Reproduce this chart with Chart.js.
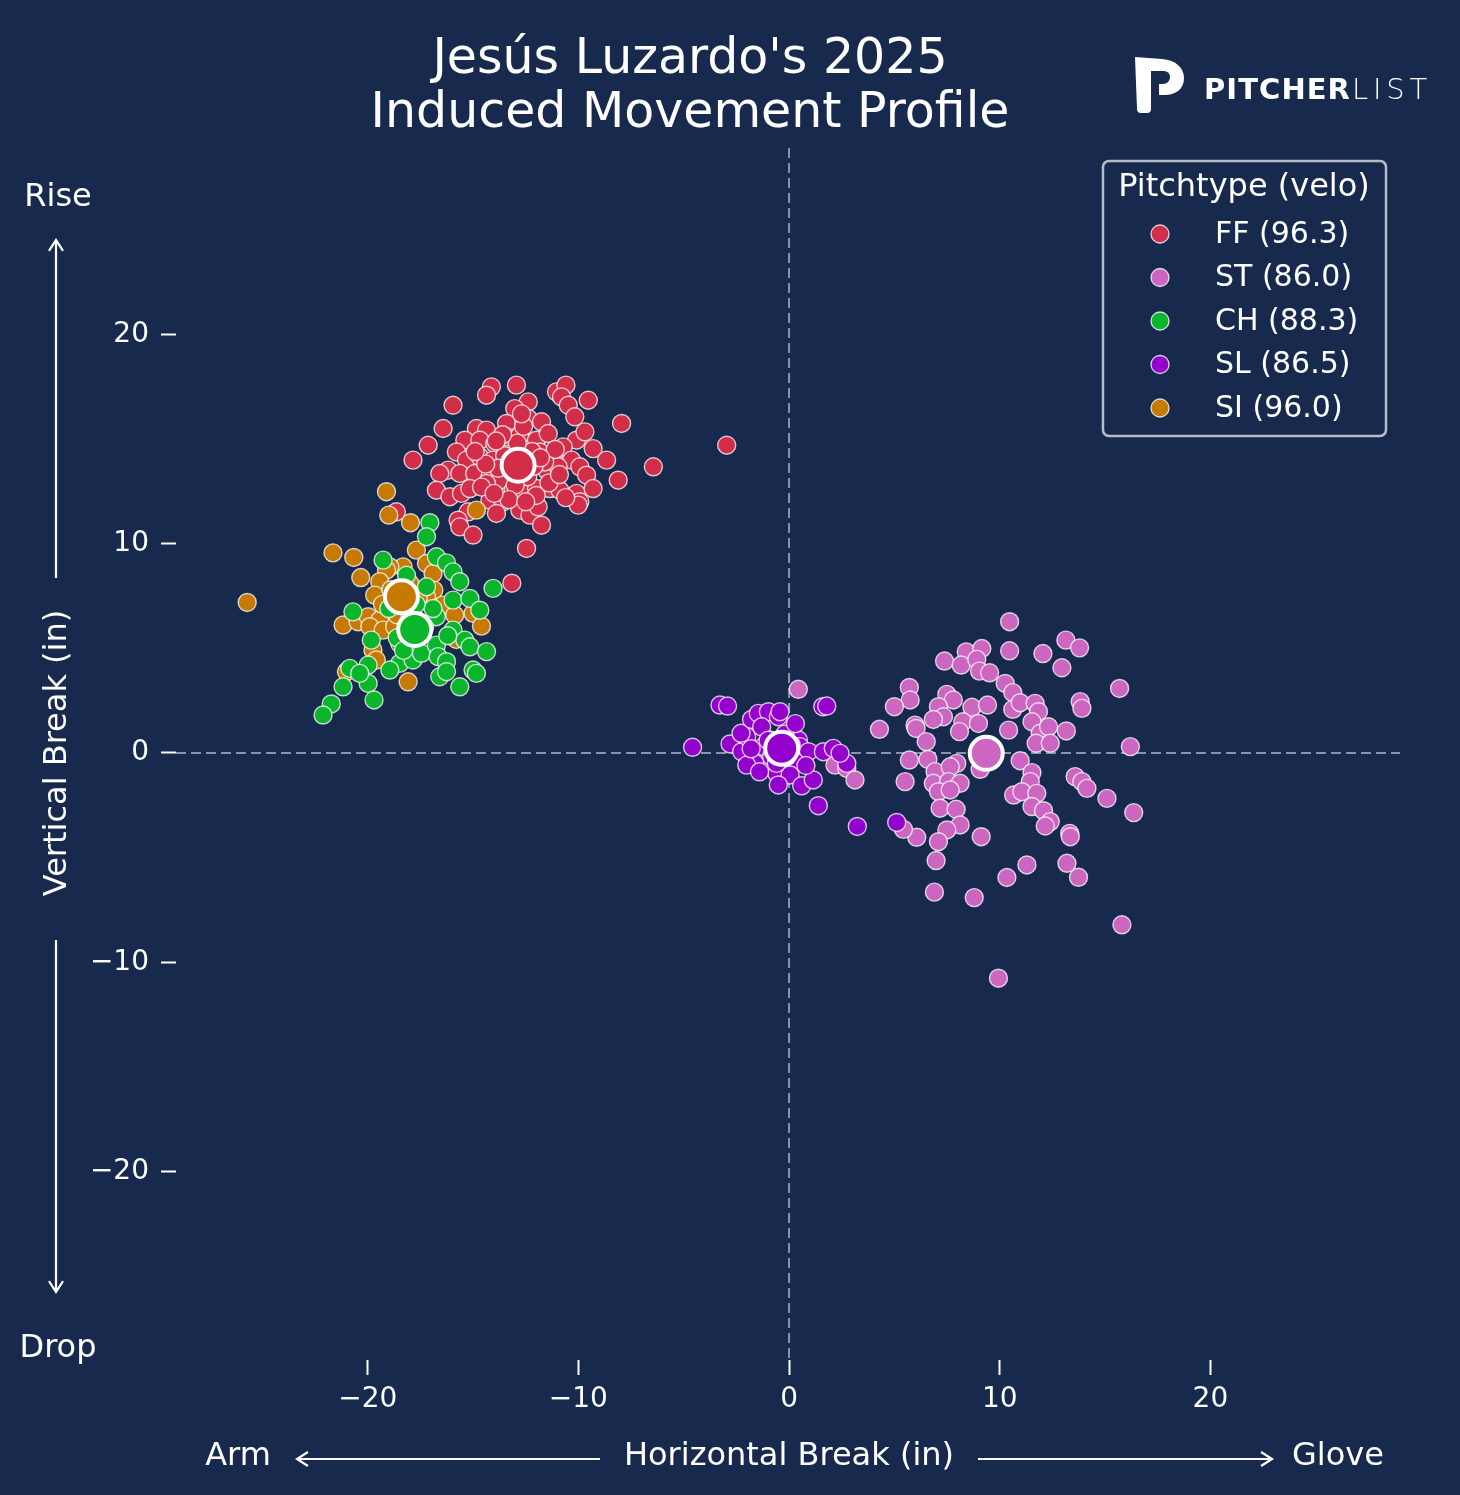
<!DOCTYPE html>
<html>
<head>
<meta charset="utf-8">
<script src="https://cdn.jsdelivr.net/npm/chart.js@4.4.1/dist/chart.umd.min.js"></script>
<style>
  html, body { margin: 0; padding: 0; background: #172a4e; }
  canvas { display: block; }
</style>
</head>
<body>
<canvas id="chart" width="1460" height="1495"></canvas>
<script>
// pitch types, legend order
const pitchNames = ["FF", "ST", "CH", "SL", "SI"];
const pitchVelo = [96.3, 86.0, 88.3, 86.5, 96.0];
const pitchColors = ["#d22d49", "#cc66c0", "#0bb52c", "#9400cc", "#c67a02"];

const xTickVals = [-20, -10, 0, 10, 20];
const yTickVals = [-20, -10, 0, 10, 20];

// horizontal (H) / vertical (V) break per pitch, inches
const ffH = [-14.13,-14.36,-12.94,-11.04,-10.59,-10.80,-12.38,-10.48,-9.53,-13.02,-15.95,-12.38,-11.75,-13.41,-10.17,-16.42,-14.84,-14.36,-15.39,-14.68,-13.97,-13.41,-12.78,-11.99,-11.43,-10.09,-9.69,-9.30,-10.72,-17.13,-15.79,-15.31,-14.68,-14.05,-11.83,-11.20,-10.32,-9.93,-8.66,-17.85,-16.18,-16.58,-15.63,-14.92,-14.20,-13.73,-11.51,-10.96,-9.61,-8.11,-16.74,-16.10,-15.55,-15.15,-14.36,-13.10,-12.62,-11.99,-11.35,-10.88,-10.09,-9.30,-9.93,-10.01,-14.20,-13.57,-12.78,-12.30,-11.91,-13.89,-15.23,-15.71,-15.63,-15.00,-11.75,-12.46,-18.64,-6.44,-7.95,-2.96,-13.16,-13.5,-12.4,-13.0,-12.2,-13.8,-11.6,-12.9,-14.4,-12.0,-13.3,-11.4,-14.6,-12.6,-13.6,-11.1,-10.6,-14.9,-13.1,-12.1,-10.9,-14.0,-12.5,-11.8,-13.9,-12.7];
const ffV = [17.49,17.09,17.57,17.25,17.57,17.01,16.77,16.61,16.85,16.45,16.61,15.98,15.82,15.74,16.06,15.50,15.50,15.42,14.94,14.94,14.78,15.10,15.18,14.94,15.26,14.94,15.34,14.54,14.62,14.70,14.38,13.99,14.15,13.99,14.38,14.15,13.99,13.67,13.99,13.99,13.51,13.35,13.35,13.35,13.19,13.03,13.51,13.67,13.27,13.03,12.55,12.24,12.40,12.63,12.87,12.55,12.48,12.63,12.63,12.55,12.40,12.63,12.00,11.84,12.08,12.00,11.60,11.36,11.76,11.44,11.52,11.12,10.80,10.41,10.88,9.77,11.52,13.67,15.74,14.70,8.11,14.2,13.2,12.8,14.4,13.6,13.9,14.8,13.8,12.3,12.1,12.9,12.7,15.6,15.2,14.5,12.2,14.4,13.4,13.7,13.3,12.4,12.0,14.1,14.9,16.2];

const stH = [10.47,13.14,13.79,8.41,9.15,10.47,12.05,12.95,7.38,8.17,8.91,9.04,9.52,10.26,10.62,0.44,5.71,5.75,5.00,7.49,7.80,7.09,7.33,6.85,8.68,9.42,10.62,10.97,11.68,11.84,13.82,13.90,15.69,4.29,5.98,6.03,8.25,8.09,8.99,10.42,11.53,11.92,12.32,11.73,12.40,13.16,16.20,6.51,5.71,6.59,7.96,6.93,7.65,9.07,10.97,2.26,2.18,2.74,3.13,5.51,6.85,7.57,8.12,7.09,7.65,11.53,11.45,10.66,11.05,11.76,13.58,13.90,14.14,15.09,16.36,7.17,7.93,11.53,12.08,12.40,12.16,8.12,7.49,6.06,5.43,7.09,9.12,13.32,13.35,6.98,11.29,10.34,13.19,13.74,6.90,8.79,15.80,9.94];
const stV = [6.27,5.39,5.02,4.83,4.99,4.88,4.75,4.07,4.39,4.20,4.47,3.91,3.83,3.32,2.88,3.04,3.13,2.53,2.21,2.80,2.53,2.21,1.73,1.60,2.18,2.29,2.08,2.40,2.37,1.97,2.45,2.13,3.08,1.13,1.33,1.17,1.49,1.02,1.41,1.09,1.49,0.94,1.25,0.46,0.46,1.05,0.30,0.54,-0.34,-0.31,-0.50,-0.89,-0.66,-0.78,-0.37,-0.10,-0.58,-0.74,-1.29,-1.37,-1.45,-1.37,-1.45,-1.85,-1.77,-0.94,-1.37,-2.01,-1.85,-1.93,-1.13,-1.37,-1.69,-2.17,-2.85,-2.64,-2.69,-2.56,-2.76,-3.28,-3.49,-3.44,-3.68,-4.03,-3.65,-4.24,-4.00,-3.84,-4.00,-5.14,-5.35,-5.95,-5.27,-5.94,-6.65,-6.91,-8.21,-10.76];

const chH = [-19.27,-18.16,-16.74,-16.26,-15.95,-15.63,-17.21,-16.74,-15.95,-15.15,-14.68,-14.05,-20.70,-19.83,-18.48,-17.85,-17.45,-16.74,-16.66,-16.26,-15.95,-15.39,-15.15,-14.36,-15.00,-14.84,-15.63,-16.58,-16.26,-19.98,-20.85,-21.17,-19.98,-19.70,-21.73,-22.12,-20.38,-18.95,-17.45,-18.48,-17.05,-17.21,-18.0,-17.3,-18.6,-16.9,-17.7,-19.0,-16.2,-18.3];
const chV = [9.21,8.49,9.37,9.08,8.65,8.18,7.94,6.51,7.30,7.38,6.82,7.86,6.74,5.39,4.28,4.44,4.76,5.15,4.60,4.36,5.87,5.39,5.07,4.84,3.96,3.80,3.16,3.64,3.88,4.20,4.04,3.16,3.32,2.53,2.34,1.81,3.80,3.96,6.19,5.23,11.00,10.33,6.6,6.0,5.5,6.9,7.1,6.9,5.6,4.9];

const slH = [-3.28,-2.92,1.60,1.79,-4.58,-2.80,-2.25,-2.01,-2.28,-1.78,-1.46,-0.98,-0.51,-0.43,-1.30,-1.62,-2.01,-0.90,0.05,0.44,0.52,0.92,0.28,-0.59,0.05,-0.51,0.60,1.15,1.39,3.24,5.11,1.63,2.74,-1.22,-0.83,-0.11,2.10,2.42,-1.0,-0.2,0.3,-1.8,0.8,-0.6,0.1,-1.4];
const slV = [2.29,2.24,2.21,2.24,0.27,0.43,0.06,0.78,0.94,1.60,1.89,1.97,1.73,1.97,1.25,-0.50,-0.58,0.62,0.94,0.62,0.30,0.06,-0.42,-0.97,-1.05,-1.53,-1.57,-1.29,-2.52,-3.51,-3.32,0.06,-0.50,0.30,-0.18,-0.18,0.22,-0.02,0.6,0.9,1.4,0.2,-0.6,-0.5,0.4,-0.9];

const siH = [-21.65,-20.66,-20.33,-17.69,-18.32,-18.95,-19.11,-17.21,-16.90,-16.86,-17.21,-19.43,-19.67,-21.17,-20.46,-19.98,-19.43,-19.90,-19.27,-18.72,-16.42,-15.87,-15.00,-14.60,-15.79,-19.75,-19.59,-18.08,-21.01,-25.72,-19.11,-19.00,-14.84,-17.97,-18.9,-18.0,-17.6,-19.3,-18.6,-17.9];
const siV = [9.56,9.34,8.38,9.69,8.89,8.89,8.73,9.05,8.57,7.78,7.46,8.18,7.54,6.11,6.27,6.51,6.35,6.03,5.87,6.03,7.06,6.59,6.67,6.06,5.42,4.91,4.44,3.40,3.88,7.19,12.48,11.36,11.60,11.00,7.8,8.1,7.4,7.1,6.6,6.9];

// averages per pitch, legend order
const meanH = [-12.86, 9.36, -17.77, -0.35, -18.40];
const meanV = [13.75, -0.02, 5.90, 0.22, 7.46];

const BG = "#172a4e";
const FONT = "DejaVu Sans";

function pts(h, v) {
  return h.map((x, i) => ({ x: x, y: v[i] }));
}

function fmt(v) {
  return v < 0 ? "\u2212" + Math.abs(v) : String(v);
}

const seriesH = [ffH, stH, chH, slH, siH];
const seriesV = [ffV, stV, chV, slV, siV];
// lower order = drawn on top
const seriesOrder = [6, 5, 2, 4, 3];

const datasets = pitchNames.map((name, i) => ({
  label: name,
  data: pts(seriesH[i], seriesV[i]),
  backgroundColor: pitchColors[i],
  borderColor: "rgba(255,255,255,0.75)",
  borderWidth: 1.4,
  pointRadius: 9,
  pointHoverRadius: 9,
  order: seriesOrder[i]
}));

// draw CH mean last so it sits over SI mean
const meanDrawOrder = [0, 1, 3, 4, 2];
datasets.push({
  label: "mean",
  data: meanDrawOrder.map(i => ({ x: meanH[i], y: meanV[i] })),
  backgroundColor: meanDrawOrder.map(i => pitchColors[i]),
  borderColor: "#ffffff",
  borderWidth: 4,
  pointRadius: 16.5,
  pointHoverRadius: 16.5,
  order: 0
});

function arrow(ctx, x1, y1, x2, y2) {
  const a = Math.atan2(y2 - y1, x2 - x1);
  const hl = 13, ha = Math.PI / 5.5;
  ctx.beginPath();
  ctx.moveTo(x1, y1);
  ctx.lineTo(x2, y2);
  ctx.moveTo(x2 - hl * Math.cos(a - ha), y2 - hl * Math.sin(a - ha));
  ctx.lineTo(x2, y2);
  ctx.lineTo(x2 - hl * Math.cos(a + ha), y2 - hl * Math.sin(a + ha));
  ctx.stroke();
}

function fitText(ctx, text, x, y, target) {
  ctx.letterSpacing = "0px";
  const w = ctx.measureText(text).width;
  const sp = (target - w) / text.length;
  ctx.letterSpacing = sp + "px";
  ctx.fillText(text, x, y);
  ctx.letterSpacing = "0px";
}

const bgPlugin = {
  id: "bg",
  beforeDraw(chart) {
    const ctx = chart.ctx;
    ctx.save();
    ctx.fillStyle = BG;
    ctx.fillRect(0, 0, chart.width, chart.height);
    ctx.restore();
  }
};

const zeroLines = {
  id: "zeroLines",
  beforeDatasetsDraw(chart) {
    const { ctx, chartArea, scales } = chart;
    const x0 = scales.x.getPixelForValue(0);
    const y0 = scales.y.getPixelForValue(0);
    ctx.save();
    ctx.strokeStyle = "rgba(200,205,215,0.65)";
    ctx.lineWidth = 2;
    ctx.setLineDash([10, 5]);
    ctx.beginPath();
    ctx.moveTo(chartArea.left, y0);
    ctx.lineTo(chartArea.right, y0);
    ctx.moveTo(x0, chartArea.top);
    ctx.lineTo(x0, chartArea.bottom);
    ctx.stroke();
    ctx.restore();
  }
};

const decor = {
  id: "decor",
  afterDraw(chart) {
    const ctx = chart.ctx;
    ctx.save();
    ctx.fillStyle = "#ffffff";
    ctx.strokeStyle = "#ffffff";

    // title
    ctx.font = "49px '" + FONT + "'";
    ctx.textAlign = "center";
    ctx.textBaseline = "middle";
    ctx.fillText("Jes\u00fas Luzardo's 2025", 690, 60);
    ctx.fillText("Induced Movement Profile", 690, 114);

    // axis texts
    ctx.font = "32px '" + FONT + "'";
    ctx.fillText("Rise", 58, 198);
    ctx.fillText("Drop", 58, 1349);
    ctx.fillText("Horizontal Break (in)", 789, 1457);
    ctx.fillText("Arm", 238, 1457);
    ctx.fillText("Glove", 1338, 1457);
    ctx.save();
    ctx.translate(58, 753);
    ctx.rotate(-Math.PI / 2);
    ctx.fillText("Vertical Break (in)", 0, 0);
    ctx.restore();

    ctx.lineWidth = 2.2;
    arrow(ctx, 56, 578, 56, 240);
    arrow(ctx, 56, 940, 56, 1292);
    arrow(ctx, 600, 1459, 297, 1459);
    arrow(ctx, 978, 1459, 1272, 1459);

    // legend
    const lx = 1103, ly = 161, lw = 283, lh = 275;
    ctx.beginPath();
    ctx.roundRect(lx, ly, lw, lh, 6);
    ctx.fillStyle = BG;
    ctx.fill();
    ctx.lineWidth = 2.5;
    ctx.strokeStyle = "#b8bcc6";
    ctx.stroke();
    ctx.fillStyle = "#ffffff";
    ctx.font = "32px '" + FONT + "'";
    ctx.textAlign = "center";
    ctx.fillText("Pitchtype (velo)", 1244, 188);
    ctx.font = "30px '" + FONT + "'";
    ctx.textAlign = "left";
    pitchNames.forEach((name, i) => {
      const ry = 234 + i * 43.5;
      ctx.beginPath();
      ctx.arc(1160, ry, 9, 0, Math.PI * 2);
      ctx.fillStyle = pitchColors[i];
      ctx.fill();
      ctx.lineWidth = 1.3;
      ctx.strokeStyle = "rgba(255,255,255,0.8)";
      ctx.stroke();
      ctx.fillStyle = "#ffffff";
      ctx.fillText(name + " (" + pitchVelo[i].toFixed(1) + ")", 1215, ry + 1);
    });

    // logo
    ctx.fillStyle = "#ffffff";
    ctx.beginPath();
    ctx.moveTo(1135, 57);
    ctx.lineTo(1162, 59);
    ctx.bezierCurveTo(1176, 60, 1184, 68, 1184, 78);
    ctx.bezierCurveTo(1184, 89, 1176, 95, 1164, 95);
    ctx.lineTo(1159, 95);
    ctx.lineTo(1159, 84);
    ctx.lineTo(1163, 84);
    ctx.bezierCurveTo(1167, 84, 1170, 81, 1170, 77);
    ctx.bezierCurveTo(1170, 73, 1167, 71, 1163, 71);
    ctx.lineTo(1151, 71);
    ctx.lineTo(1151, 109);
    ctx.quadraticCurveTo(1151, 113, 1147, 113);
    ctx.lineTo(1141, 113);
    ctx.quadraticCurveTo(1137, 113, 1137, 109);
    ctx.closePath();
    ctx.fill();

    ctx.textAlign = "left";
    ctx.textBaseline = "alphabetic";
    ctx.font = "bold 29px '" + FONT + "'";
    fitText(ctx, "PITCHER", 1204, 99, 147);
    ctx.font = "200 29px '" + FONT + "'";
    fitText(ctx, "LIST", 1352, 99, 80);

    ctx.restore();
  }
};

new Chart(document.getElementById("chart"), {
  type: "scatter",
  data: { datasets: datasets },
  options: {
    responsive: false,
    animation: false,
    devicePixelRatio: 1,
    layout: { padding: { top: 148, right: 60, left: 0, bottom: 0 } },
    plugins: {
      legend: { display: false },
      tooltip: { enabled: false }
    },
    scales: {
      x: {
        type: "linear",
        min: -29.1,
        max: 29.0,
        afterFit: s => { s.height = 135; },
        afterBuildTicks: s => { s.ticks = xTickVals.map(v => ({ value: v })); },
        grid: { display: true, drawOnChartArea: false, drawTicks: true, tickLength: 15, tickWidth: 2, tickColor: "#ffffff" },
        border: { display: false },
        ticks: { color: "#ffffff", font: { size: 28, family: FONT }, padding: 8, maxRotation: 0, autoSkip: false, callback: fmt }
      },
      y: {
        type: "linear",
        min: -29.0,
        max: 28.9,
        afterFit: s => { s.width = 176; },
        afterBuildTicks: s => { s.ticks = yTickVals.map(v => ({ value: v })); },
        grid: { display: true, drawOnChartArea: false, drawTicks: true, tickLength: 15, tickWidth: 2, tickColor: "#ffffff" },
        border: { display: false },
        ticks: { color: "#ffffff", font: { size: 28, family: FONT }, padding: 12, autoSkip: false, callback: fmt }
      }
    }
  },
  plugins: [bgPlugin, zeroLines, decor]
});
</script>
</body>
</html>
